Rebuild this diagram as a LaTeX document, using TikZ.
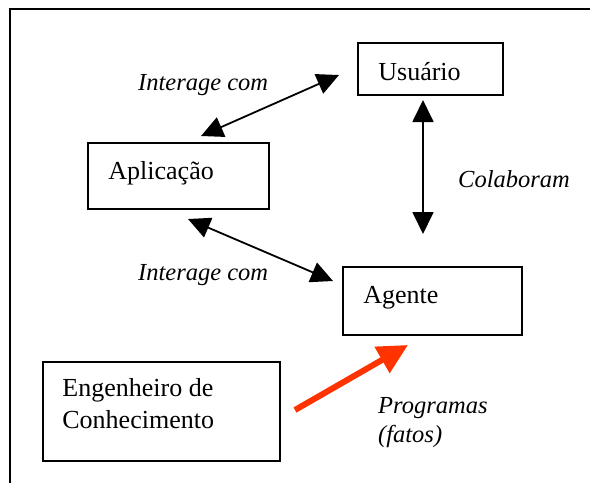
\documentclass[tikz,border=0pt]{standalone}
\usepackage{fontspec}
\setmainfont{Liberation Serif}
\usetikzlibrary{arrows.meta,calc}
\definecolor{arrowred}{RGB}{255,51,0}
\begin{document}
\begin{tikzpicture}[x=1pt,y=-1pt,
  box/.style={draw,line width=1.6pt,inner sep=0pt},
  lbl/.style={font=\fontsize{26}{31}\selectfont,anchor=base west,inner sep=0pt},
  ilbl/.style={font=\fontsize{24.5}{29}\selectfont\itshape,anchor=base west,inner sep=0pt},
  dbl/.style={line width=1.8pt,{Triangle[length=22pt,width=21pt]}-{Triangle[length=22pt,width=21pt]}},
  redarrow/.style={draw=arrowred,line width=6pt,-{Triangle[length=30pt,width=29pt]}}]
\useasboundingbox (0,0) rectangle (590,483);
\draw[line width=2.4pt] (10,483) -- (10,9) -- (590,9);
% boxes
\node[box,minimum width=145pt,minimum height=52pt] (usr) at (430.5,69) {};
\node[box,minimum width=181pt,minimum height=66pt] (apl) at (178.5,176) {};
\node[box,minimum width=179pt,minimum height=68pt] (agt) at (432.5,301) {};
\node[box,minimum width=237pt,minimum height=99pt] (eng) at (161.5,411.5) {};
% box texts
\node[lbl] (usrt) at ($(usr.north west)+(21,38)$) {Usuário};
\node[lbl] (aplt) at ($(apl.north west)+(21,37)$) {Aplicação};
\node[lbl] (agtt) at ($(agt.north west)+(21,37)$) {Agente};
\node[lbl] (engt1) at ($(eng.north west)+(20,35)$) {Engenheiro de};
\node[lbl] (engt2) at ($(eng.north west)+(20,67)$) {Conhecimento};
% connector labels
\node[ilbl] (l1) at (138,90) {Interage com};
\node[ilbl] (l2) at (138,280) {Interage com};
\node[ilbl] (l3) at (458,187) {Colaboram};
\node[ilbl] (l4) at (378,413) {Programas};
\node[ilbl] (l5) at (378,442) {(fatos)};
% connector ends
\coordinate (a1a) at (201,136);
\coordinate (a1b) at (339,75);
\coordinate (a2a) at (188,219);
\coordinate (a2b) at (333,281);
\coordinate (a3a) at (423,100);
\coordinate (a3b) at (423,234);
\coordinate (a4a) at (295,410);
\coordinate (a4b) at (408,345);
\draw[dbl] (a1a) -- (a1b);
\draw[dbl] (a2a) -- (a2b);
\draw[dbl] (a3a) -- (a3b);
\draw[redarrow] (a4a) -- (a4b);
\end{tikzpicture}
\end{document}
